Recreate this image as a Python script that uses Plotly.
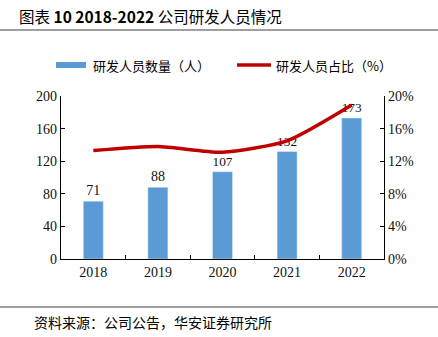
import plotly.graph_objects as go

years = ["2018", "2019", "2020", "2021", "2022"]
staff = [71, 88, 107, 132, 173]
ratio = [13.3, 13.8, 13.1, 14.5, 18.9]
left_ticks = [0, 40, 80, 120, 160, 200]
right_ticks = [0, 4, 8, 12, 16, 20]

serif = "Liberation Serif, Times New Roman, serif"
cjk = "Noto Sans CJK SC, sans-serif"

W, H = 438, 337
l, r, t, b = 61, 54, 96, 78
pw, ph = W - l - r, H - t - b
def px(x): return (x - l) / pw
def py(y): return (H - b - y) / ph

fig = go.Figure()
fig.add_trace(go.Bar(
    x=years, y=staff, marker_color="#5B9BD5", width=0.31,
    text=[str(v) for v in staff], textposition="outside",
    textfont=dict(family=serif, size=14, color="#111"),
    cliponaxis=False, showlegend=False, name="研发人员数量（人）"))
fig.add_trace(go.Scatter(
    x=years, y=ratio, yaxis="y2", mode="lines",
    line=dict(color="#C00000", width=3.5, shape="spline", smoothing=0.6),
    showlegend=False, name="研发人员占比（%）"))

axis_common = dict(showline=True, linecolor="#000", linewidth=1.2, ticks="inside",
                   ticklen=4, tickcolor="#000", showgrid=False, zeroline=False,
                   tickfont=dict(family=serif, size=14))

fig.update_layout(
    width=W, height=H,
    margin=dict(l=l, r=r, t=t, b=b),
    paper_bgcolor="white", plot_bgcolor="white",
    font=dict(family=serif, size=14, color="#111"),
    xaxis=dict(type="category", tickson="boundaries", **axis_common),
    yaxis=dict(range=[0, 200], tickvals=left_ticks, **axis_common),
    yaxis2=dict(range=[0, 20], tickvals=right_ticks, ticktext=[f"{v}%" for v in right_ticks],
                overlaying="y", side="right", **axis_common),
)

def note(x, y, text, size, family=cjk):
    fig.add_annotation(x=px(x), y=py(y), xref="paper", yref="paper", xanchor="left",
                       yanchor="middle", text=text, showarrow=False,
                       font=dict(family=family, size=size, color="#000"))

note(17, 16, "图表 <b>10 2018-2022</b> 公司研发人员情况", 15.5)
note(32, 322, "资料来源：公司公告，华安证券研究所", 14)
note(91, 65, "研发人员数量（人）", 13)
note(274, 65, "研发人员占比（%）", 13)

fig.add_shape(type="line", xref="paper", yref="paper", x0=px(0), x1=px(438), y0=py(30), y1=py(30),
              line=dict(color="#7f7f7f", width=1.5))
fig.add_shape(type="line", xref="paper", yref="paper", x0=px(0), x1=px(438), y0=py(307), y1=py(307),
              line=dict(color="#404040", width=1.2))
fig.add_shape(type="rect", xref="paper", yref="paper", x0=px(56), x1=px(86), y0=py(68), y1=py(62),
              fillcolor="#5B9BD5", line=dict(width=0))
fig.add_shape(type="line", xref="paper", yref="paper", x0=px(237), x1=px(271), y0=py(65), y1=py(65),
              line=dict(color="#C00000", width=3.5))

fig.write_html("out.html")
